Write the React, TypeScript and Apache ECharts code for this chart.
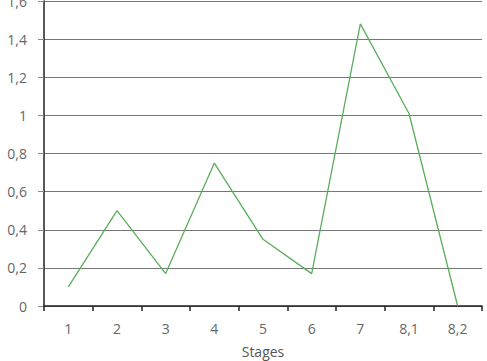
import React, { useEffect, useRef } from "react";
import * as echarts from "echarts";

const categories = ["1", "2", "3", "4", "5", "6", "7", "8,1", "8,2"];
const values = [0.1, 0.5, 0.17, 0.75, 0.35, 0.17, 1.48, 1.01, 0];
const axisName = "Stages";

export default function App() {
  const ref = useRef<HTMLDivElement>(null);
  useEffect(() => {
    const chart = echarts.init(ref.current!, null, { renderer: "svg" });
    chart.setOption({
      animation: false,
      grid: { left: 44, right: 5, top: 1, bottom: 55, containLabel: false, outerBoundsMode: "none" },
      xAxis: {
        type: "category",
        data: categories,
        boundaryGap: true,
        name: axisName,
        nameLocation: "middle",
        nameGap: 38,
        nameTextStyle: { fontFamily: "Open Sans", fontSize: 14, color: "#555" },
        axisLine: { lineStyle: { color: "#222", width: 1.5 } },
        axisTick: { show: true, length: 5, lineStyle: { color: "#222", width: 1.5 } },
        axisLabel: { fontFamily: "Open Sans", fontSize: 14, color: "#666", margin: 15 },
        splitLine: { show: false },
      },
      yAxis: {
        type: "value",
        min: 0,
        max: 1.6,
        interval: 0.2,
        axisLine: { show: true, lineStyle: { color: "#222", width: 1.5 } },
        axisTick: { show: true, length: 6, lineStyle: { color: "#888" } },
        axisLabel: {
          fontFamily: "Open Sans",
          fontSize: 14,
          color: "#666",
          margin: 17,
          formatter: (v: number) => String(Math.round(v * 10) / 10).replace(".", ","),
        },
        splitLine: { show: true, lineStyle: { color: "#777", width: 1.2 } },
      },
      series: [
        {
          type: "line",
          data: values,
          symbol: "none",
          lineStyle: { color: "#5aad5a", width: 1.3 },
          z: 5,
        },
      ],
    });
    return () => chart.dispose();
  }, []);
  return <div ref={ref} style={{ width: 487, height: 361, position: "absolute", left: 0, top: 0 }} />;
}
